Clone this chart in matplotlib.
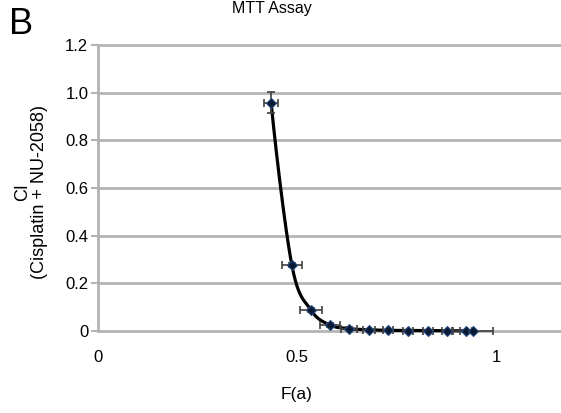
import numpy as np
import matplotlib
matplotlib.use("Agg")
import matplotlib.pyplot as plt

plt.rcParams['font.family'] = ['Liberation Sans', 'DejaVu Sans']

fa = [0.435, 0.487, 0.535, 0.583, 0.631, 0.681, 0.729, 0.779, 0.829, 0.877, 0.925, 0.942]
ci = [0.958, 0.277, 0.088, 0.025, 0.010, 0.005, 0.003, 0.002, 0.002, 0.001, 0.001, 0.001]
fa_err = [0.018, 0.025, 0.028, 0.025, 0.020, 0.015, 0.012, 0.012, 0.012, 0.012, 0.015, 0.050]
ci_err = [0.045, 0.010, 0.010, 0.008, 0.005, 0.004, 0.003, 0.003, 0.003, 0.003, 0.003, 0.003]
yticks = [0, 0.2, 0.4, 0.6, 0.8, 1.0, 1.2]
ytick_labels = ["0", "0.2", "0.4", "0.6", "0.8", "1.0", "1.2"]
xticks = [0, 0.5, 1]
xtick_labels = ["0", "0.5", "1"]

W, H = 561, 413
fig = plt.figure(figsize=(W / 100, H / 100), dpi=100)
ax = fig.add_axes([98 / W, 1 - 331 / H, (W - 98) / W, (331 - 45) / H])
ax.set_xlim(0, (W - 98) / 398)
ax.set_ylim(0, 1.2)

grid_c = '#b4b4b4'
for y in yticks:
    ax.axhline(y, color=grid_c, lw=2.0, zorder=1, clip_on=False)

for s in ['top', 'right', 'bottom']:
    ax.spines[s].set_visible(False)
ax.spines['left'].set_color(grid_c)
ax.spines['left'].set_linewidth(2.0)

ax.set_yticks(yticks)
ax.set_yticklabels(ytick_labels)
ax.set_xticks(xticks)
ax.set_xticklabels(xtick_labels)
ax.tick_params(axis='y', length=5, width=1.5, color=grid_c, labelsize=12, pad=2)
ax.tick_params(axis='x', length=0, labelsize=12, pad=14)

# smooth curve through points (Catmull-Rom)
x = np.array(fa); y = np.array(ci)
px = np.concatenate([[x[0] - 0.2 * (x[1] - x[0])], x, [2 * x[-1] - x[-2]]])
py = np.concatenate([[y[0] + 0.6 * (y[0] - y[1])], y, [2 * y[-1] - y[-2]]])
cx, cy = [], []
t = np.linspace(0, 1, 40)
for i in range(1, len(px) - 2):
    p0, p1, p2, p3 = [np.array([px[j], py[j]]) for j in (i - 1, i, i + 1, i + 2)]
    for tt in t:
        pt = 0.5 * ((2 * p1) + (-p0 + p2) * tt + (2 * p0 - 5 * p1 + 4 * p2 - p3) * tt ** 2
                    + (-p0 + 3 * p1 - 3 * p2 + p3) * tt ** 3)
        cx.append(pt[0]); cy.append(max(pt[1], 0.0))
ax.plot(cx, cy, color='black', lw=2.3, zorder=3, clip_on=False)

ax.errorbar(fa, ci, xerr=fa_err, yerr=ci_err, fmt='none', ecolor='#404040',
            elinewidth=1.2, capsize=3, capthick=1.2, zorder=4, clip_on=False)
ax.plot(fa, ci, linestyle='none', marker='D', markersize=5, color='#0a1a33',
        markeredgecolor='#274a80', markeredgewidth=0.8, zorder=5, clip_on=False)

fig.text(272 / W, 1 - 8 / H, "MTT Assay", ha='center', va='center', fontsize=11.5)
fig.text(9 / W, 1 - 25 / H, "B", ha='left', va='center', fontsize=26)
fig.text(31 / W, 1 - 192 / H, "CI\n(Cisplatin + NU-2058)", ha='center', va='center',
         rotation=90, fontsize=13, linespacing=1.0)
fig.text(297 / W, 1 - 395 / H, "F(a)", ha='center', va='center', fontsize=12.5)

fig.savefig("out.png", dpi=100)
